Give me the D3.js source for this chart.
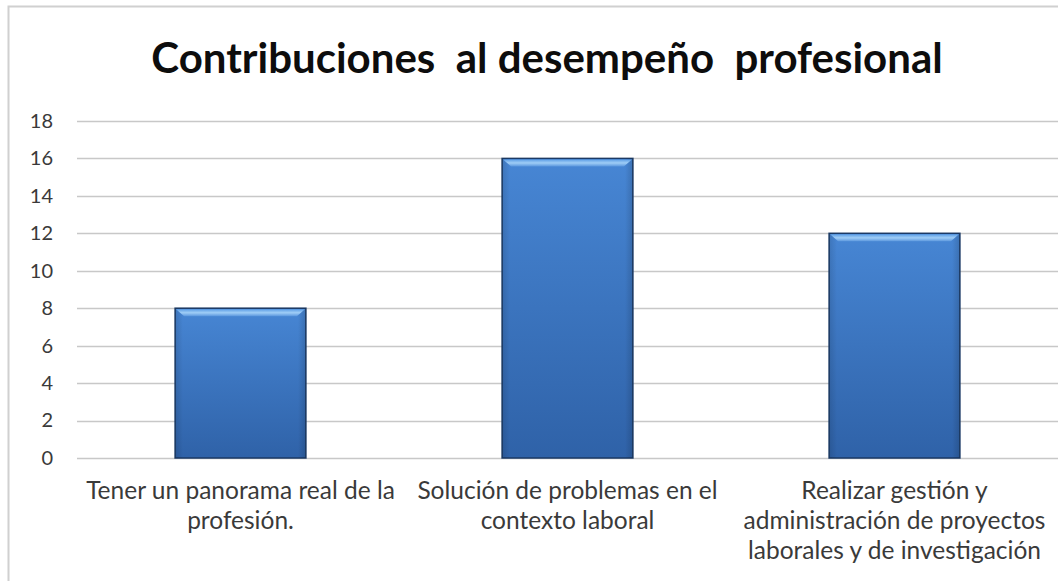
<!DOCTYPE html>
<html>
<head>
<meta charset="utf-8">
<script src="https://cdn.jsdelivr.net/npm/d3@7"></script>
<style>
  body { margin: 0; background: #fff; }
  svg { display: block; font-family: Lato, "Open Sans", sans-serif; }
  .title { white-space: pre; }
</style>
</head>
<body>
<div id="chart-area"></div>
<script>
// data
var categories = [
  "Tener un panorama real de la profesión.",
  "Solución de problemas en el contexto laboral",
  "Realizar gestión y administración de proyectos laborales y de investigación"
];
var categoryLines = [
  ["Tener un panorama real de la", "profesión."],
  ["Solución de problemas en el", "contexto laboral"],
  ["Realizar gestión y", "administración de proyectos", "laborales y de investigación"]
];
var values = [8, 16, 12];
var yTicks = [0, 2, 4, 6, 8, 10, 12, 14, 16, 18];
var title = "Contribuciones  al desempeño  profesional";

var W = 1058, H = 581;
var margin = {top: 121, right: 0, bottom: 123, left: 77};
var width = W - margin.left - margin.right,
    height = H - margin.top - margin.bottom;

var svg = d3.select("#chart-area").append("svg")
  .attr("width", W).attr("height", H);

// outer chart border
svg.append("rect")
  .attr("x", 8.5).attr("y", 6.5)
  .attr("width", W + 10).attr("height", H + 10)
  .attr("fill", "none").attr("stroke", "#d0d0d0").attr("stroke-width", 2);

var defs = svg.append("defs");
var grad = defs.append("linearGradient").attr("id", "barGrad")
  .attr("x1", 0).attr("y1", 0).attr("x2", 0).attr("y2", 1);
grad.append("stop").attr("offset", "0%").attr("stop-color", "#4786d4");
grad.append("stop").attr("offset", "100%").attr("stop-color", "#2f62a8");
var side = defs.append("linearGradient").attr("id", "sideGrad")
  .attr("x1", 0).attr("y1", 0).attr("x2", 1).attr("y2", 0);
side.append("stop").attr("offset", "0%").attr("stop-color", "#000").attr("stop-opacity", 0.12);
side.append("stop").attr("offset", "6%").attr("stop-color", "#000").attr("stop-opacity", 0);
side.append("stop").attr("offset", "94%").attr("stop-color", "#000").attr("stop-opacity", 0);
side.append("stop").attr("offset", "100%").attr("stop-color", "#000").attr("stop-opacity", 0.15);
var bevel = defs.append("linearGradient").attr("id", "bevelGrad")
  .attr("x1", 0).attr("y1", 0).attr("x2", 0).attr("y2", 1);
bevel.append("stop").attr("offset", "0%").attr("stop-color", "#5d9ee6");
bevel.append("stop").attr("offset", "50%").attr("stop-color", "#9fcdf6");
bevel.append("stop").attr("offset", "100%").attr("stop-color", "#5b97de");

svg.append("text")
  .attr("class", "title")
  .attr("x", 547).attr("y", 73)
  .attr("text-anchor", "middle")
  .attr("font-size", 42).attr("font-weight", "bold")
  .attr("fill", "#0d0d0d")
  .text(title);

var g = svg.append("g")
  .attr("transform", "translate(" + margin.left + "," + margin.top + ")");

var xScale = d3.scaleBand().domain(categories).range([0, width]).paddingInner(0.6).paddingOuter(0.3);
var yScale = d3.scaleLinear().domain([0, 18]).range([height, 0]);

// gridlines
g.append("g").selectAll("line").data(yTicks).enter().append("line")
  .attr("x1", 0).attr("x2", width)
  .attr("y1", d => Math.round(yScale(d)) + 0.5)
  .attr("y2", d => Math.round(yScale(d)) + 0.5)
  .attr("stroke", "#c8c8c8").attr("stroke-width", 1.5);

// y axis labels
var yAxis = d3.axisLeft(yScale).tickValues(yTicks).tickSize(0).tickPadding(24);
g.append("g").call(yAxis)
  .call(s => s.select(".domain").remove())
  .selectAll("text")
  .attr("font-size", 20).attr("font-family", "Lato, sans-serif").attr("fill", "#3a3a3a");

// bars
var bars = g.append("g").selectAll("g.bar").data(values).enter().append("g").attr("class", "bar");
bars.append("rect")
  .attr("x", (d, i) => xScale(categories[i]))
  .attr("y", d => yScale(d))
  .attr("width", xScale.bandwidth())
  .attr("height", d => height - yScale(d))
  .attr("fill", "url(#barGrad)")
  .attr("stroke", "#1b3a66").attr("stroke-width", 1.5);
bars.append("rect")
  .attr("x", (d, i) => xScale(categories[i]))
  .attr("y", d => yScale(d))
  .attr("width", xScale.bandwidth())
  .attr("height", d => height - yScale(d))
  .attr("fill", "url(#sideGrad)");
// top bevel
bars.append("path")
  .attr("d", function(d, i) {
    var x0 = xScale(categories[i]), x1 = x0 + xScale.bandwidth(), y0 = yScale(d);
    return "M" + (x0 + 1) + "," + (y0 + 1) + "L" + (x1 - 1) + "," + (y0 + 1) +
      "L" + (x1 - 9) + "," + (y0 + 8) + "L" + (x0 + 9) + "," + (y0 + 8) + "Z";
  })
  .attr("fill", "url(#bevelGrad)");

// category labels
var labels = g.append("g").selectAll("text").data(categoryLines).enter().append("text")
  .attr("x", (d, i) => xScale(categories[i]) + xScale.bandwidth() / 2)
  .attr("y", height + 41)
  .attr("text-anchor", "middle")
  .attr("font-size", 24.5).attr("fill", "#3a3a3a");
labels.selectAll("tspan").data(d => d).enter().append("tspan")
  .attr("x", function() { return d3.select(this.parentNode).attr("x"); })
  .attr("dy", (d, i) => i === 0 ? 0 : 30)
  .text(d => d);
</script>
</body>
</html>
